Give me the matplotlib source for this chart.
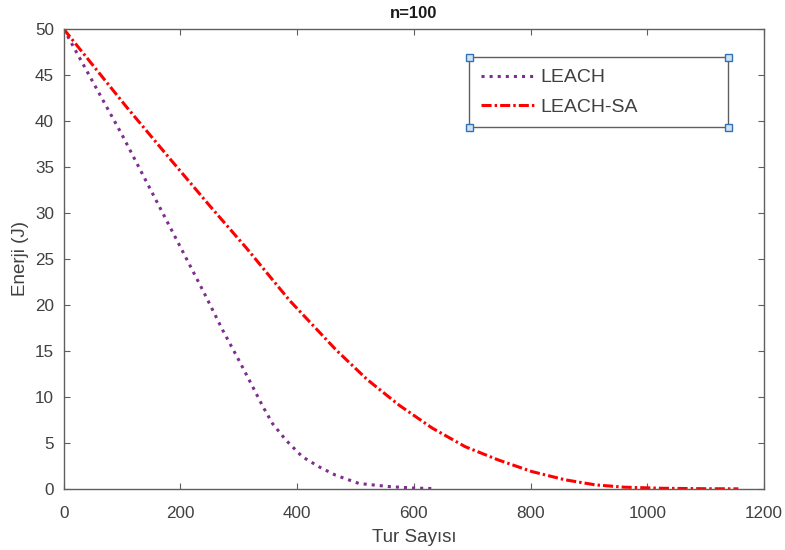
import matplotlib.pyplot as plt
from matplotlib.patches import Rectangle

plt.rcParams["font.family"] = ["Liberation Sans", "DejaVu Sans"]

# LEACH (purple dotted)
leach_rounds = [0, 100, 200, 240, 273, 301, 324, 341, 358, 381, 409, 438, 466, 506, 560, 603, 631]
leach_energy = [50, 38.5, 26.3, 21.4, 17.2, 13.9, 11.1, 9.0, 7.1, 5.3, 3.5, 2.4, 1.5, 0.6, 0.25, 0.1, 0.05]

# LEACH-SA (red dash-dot)
sa_rounds = [0, 108, 182, 250, 313, 387, 467, 520, 575, 632, 688, 745, 802, 859, 911, 960, 1025, 1100, 1156]
sa_energy = [50, 41.5, 35.9, 30.8, 26.2, 20.5, 15.1, 11.9, 9.1, 6.6, 4.6, 3.15, 1.9, 1.0, 0.45, 0.2, 0.08, 0.03, 0.02]

series_labels = ["LEACH", "LEACH-SA"]
x_ticks = [0, 200, 400, 600, 800, 1000, 1200]
y_ticks = [0, 5, 10, 15, 20, 25, 30, 35, 40, 45, 50]

TEXT = "#404040"
AXC = "#5f5f5f"

fig = plt.figure(figsize=(7.85, 5.5), dpi=100)
ax = fig.add_axes([0.0811, 0.1109, 0.8922, 0.8364])

ax.plot(leach_rounds, leach_energy, color="#7E2F8E", linestyle=":", linewidth=2.2,
        label=series_labels[0])
ax.plot(sa_rounds, sa_energy, color="#FF0000", linewidth=2.2,
        dashes=(3.3, 1.0, 0.8, 1.0), label=series_labels[1])

ax.set_xlim(0, 1200)
ax.set_ylim(0, 50)
ax.set_xticks(x_ticks)
ax.set_yticks(y_ticks)
ax.tick_params(direction="in", length=4, width=0.8, colors=AXC, labelcolor=TEXT,
               labelsize=12.3, top=True, right=True)
ax.tick_params(axis="x", pad=12)
ax.tick_params(axis="y", pad=7)
for sp in ax.spines.values():
    sp.set_color(AXC)
    sp.set_linewidth(1.0)

ax.set_xlabel("Tur Sayısı", fontsize=13.5, color=TEXT, labelpad=6)
ax.set_ylabel("Enerji (J)", fontsize=13.5, color=TEXT, labelpad=4)
ax.set_title("n=100", fontsize=12, fontweight="bold", color="#1a1a1a", pad=8)

leg = ax.legend(loc="upper left", bbox_to_anchor=(0.579, 0.789, 0.37, 0.15),
                mode="expand", fontsize=14, handlelength=2.8, handletextpad=0.25,
                labelspacing=0.6, borderpad=0.6, borderaxespad=0.0, fancybox=False)
frame = leg.get_frame()
frame.set_edgecolor(AXC)
frame.set_linewidth(1.0)
frame.set_alpha(1)
for t in leg.get_texts():
    t.set_color(TEXT)

# selection handles at legend corners
fig.canvas.draw()
bb = leg.get_window_extent().transformed(fig.transFigure.inverted())
sw, sh = 7 / 785, 7 / 550
for cx in (bb.x0, bb.x1):
    for cy in (bb.y0, bb.y1):
        fig.add_artist(Rectangle((cx - sw / 2, cy - sh / 2), sw, sh,
                                 transform=fig.transFigure, facecolor="#cfe3f5",
                                 edgecolor="#2f73b5", linewidth=1.0, zorder=10))

fig.savefig("out.png", dpi=100)
